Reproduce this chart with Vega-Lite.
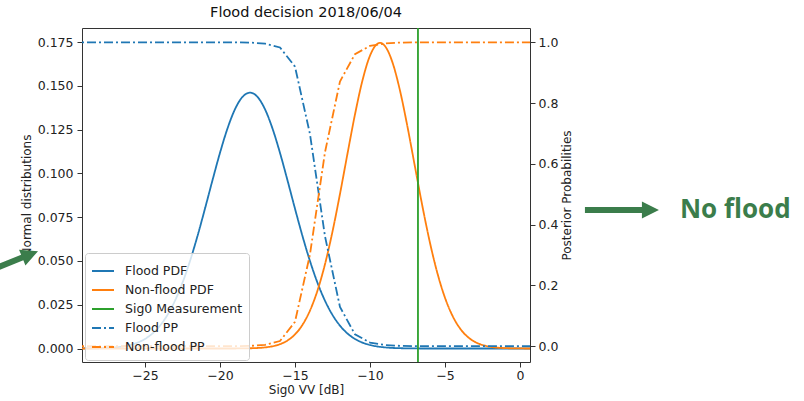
{
  "$schema": "https://vega.github.io/schema/vega-lite/v6.json",
  "width": 448,
  "height": 334,
  "autosize": {"type": "none"},
  "padding": {"left": 82, "top": 28, "right": 274, "bottom": 39},
  "background": "white",
  "title": {"text": "Flood decision 2018/06/04", "fontSize": 14.5, "fontWeight": "normal", "font": "DejaVu Sans", "color": "#111", "offset": 9, "baseline": "alphabetic", "anchor": "middle", "frame": "group", "dy": 13},
  "config": {
    "font": "DejaVu Sans",
    "view": {"stroke": "#333", "strokeWidth": 1},
    "axis": {"grid": false, "domain": false, "tickColor": "#333", "tickSize": 5, "labelFontSize": 12.5, "labelColor": "#222", "titleFontSize": 12, "titleFontWeight": "normal", "titleColor": "#222", "labelFont": "DejaVu Sans", "titleFont": "DejaVu Sans"},
    "legend": {"orient": "none", "legendX": 3, "legendY": 225, "symbolType": "stroke", "symbolSize": 484, "symbolStrokeWidth": 1.8, "labelFontSize": 12.5, "labelColor": "#222", "labelFont": "DejaVu Sans", "labelOffset": 10, "padding": 6, "rowPadding": 0, "fillColor": "rgba(255,255,255,0.8)", "strokeColor": "#cccccc", "cornerRadius": 3}
  },
  "datasets": {
    "pdf": [
      {"x": -29.5, "v": 0, "series": "Flood PDF"},
      {"x": -29, "v": 0.00004, "series": "Flood PDF"},
      {"x": -28.5, "v": 0.00009, "series": "Flood PDF"},
      {"x": -28, "v": 0.00018, "series": "Flood PDF"},
      {"x": -27.5, "v": 0.00034, "series": "Flood PDF"},
      {"x": -27, "v": 0.00064, "series": "Flood PDF"},
      {"x": -26.5, "v": 0.00115, "series": "Flood PDF"},
      {"x": -26, "v": 0.00199, "series": "Flood PDF"},
      {"x": -25.5, "v": 0.00336, "series": "Flood PDF"},
      {"x": -25, "v": 0.00546, "series": "Flood PDF"},
      {"x": -24.5, "v": 0.00858, "series": "Flood PDF"},
      {"x": -24, "v": 0.01305, "series": "Flood PDF"},
      {"x": -23.5, "v": 0.0192, "series": "Flood PDF"},
      {"x": -23, "v": 0.02731, "series": "Flood PDF"},
      {"x": -22.5, "v": 0.03756, "series": "Flood PDF"},
      {"x": -22, "v": 0.04994, "series": "Flood PDF"},
      {"x": -21.5, "v": 0.06423, "series": "Flood PDF"},
      {"x": -21, "v": 0.07988, "series": "Flood PDF"},
      {"x": -20.5, "v": 0.09606, "series": "Flood PDF"},
      {"x": -20, "v": 0.11171, "series": "Flood PDF"},
      {"x": -19.5, "v": 0.12563, "series": "Flood PDF"},
      {"x": -19, "v": 0.13662, "series": "Flood PDF"},
      {"x": -18.5, "v": 0.14367, "series": "Flood PDF"},
      {"x": -18, "v": 0.1461, "series": "Flood PDF"},
      {"x": -17.5, "v": 0.14367, "series": "Flood PDF"},
      {"x": -17, "v": 0.13662, "series": "Flood PDF"},
      {"x": -16.5, "v": 0.12563, "series": "Flood PDF"},
      {"x": -16, "v": 0.11171, "series": "Flood PDF"},
      {"x": -15.5, "v": 0.09606, "series": "Flood PDF"},
      {"x": -15, "v": 0.07988, "series": "Flood PDF"},
      {"x": -14.5, "v": 0.06423, "series": "Flood PDF"},
      {"x": -14, "v": 0.04994, "series": "Flood PDF"},
      {"x": -13.5, "v": 0.03756, "series": "Flood PDF"},
      {"x": -13, "v": 0.02731, "series": "Flood PDF"},
      {"x": -12.5, "v": 0.0192, "series": "Flood PDF"},
      {"x": -12, "v": 0.01305, "series": "Flood PDF"},
      {"x": -11.5, "v": 0.00858, "series": "Flood PDF"},
      {"x": -11, "v": 0.00546, "series": "Flood PDF"},
      {"x": -10.5, "v": 0.00336, "series": "Flood PDF"},
      {"x": -10, "v": 0.00199, "series": "Flood PDF"},
      {"x": -9.5, "v": 0.00115, "series": "Flood PDF"},
      {"x": -9, "v": 0.00064, "series": "Flood PDF"},
      {"x": -8.5, "v": 0.00034, "series": "Flood PDF"},
      {"x": -8, "v": 0.00018, "series": "Flood PDF"},
      {"x": -7.5, "v": 0.00009, "series": "Flood PDF"},
      {"x": -7, "v": 0.00004, "series": "Flood PDF"},
      {"x": -6, "v": 0, "series": "Flood PDF"},
      {"x": -3, "v": 0, "series": "Flood PDF"},
      {"x": 1, "v": 0, "series": "Flood PDF"},
      {"x": -29.5, "v": 0, "series": "Non-flood PDF"},
      {"x": -20, "v": 0, "series": "Non-flood PDF"},
      {"x": -19, "v": 0.00002, "series": "Non-flood PDF"},
      {"x": -18.5, "v": 0.00006, "series": "Non-flood PDF"},
      {"x": -18, "v": 0.00013, "series": "Non-flood PDF"},
      {"x": -17.5, "v": 0.00029, "series": "Non-flood PDF"},
      {"x": -17, "v": 0.00063, "series": "Non-flood PDF"},
      {"x": -16.5, "v": 0.00128, "series": "Non-flood PDF"},
      {"x": -16, "v": 0.00247, "series": "Non-flood PDF"},
      {"x": -15.5, "v": 0.00457, "series": "Non-flood PDF"},
      {"x": -15, "v": 0.00805, "series": "Non-flood PDF"},
      {"x": -14.5, "v": 0.01353, "series": "Non-flood PDF"},
      {"x": -14, "v": 0.02166, "series": "Non-flood PDF"},
      {"x": -13.5, "v": 0.03306, "series": "Non-flood PDF"},
      {"x": -13, "v": 0.0481, "series": "Non-flood PDF"},
      {"x": -12.5, "v": 0.06672, "series": "Non-flood PDF"},
      {"x": -12, "v": 0.08822, "series": "Non-flood PDF"},
      {"x": -11.5, "v": 0.11121, "series": "Non-flood PDF"},
      {"x": -11, "v": 0.13363, "series": "Non-flood PDF"},
      {"x": -10.5, "v": 0.15308, "series": "Non-flood PDF"},
      {"x": -10, "v": 0.16716, "series": "Non-flood PDF"},
      {"x": -9.5, "v": 0.17402, "series": "Non-flood PDF"},
      {"x": -9.33, "v": 0.1745, "series": "Non-flood PDF"},
      {"x": -9, "v": 0.17269, "series": "Non-flood PDF"},
      {"x": -8.5, "v": 0.16337, "series": "Non-flood PDF"},
      {"x": -8, "v": 0.14733, "series": "Non-flood PDF"},
      {"x": -7.5, "v": 0.12666, "series": "Non-flood PDF"},
      {"x": -7, "v": 0.10381, "series": "Non-flood PDF"},
      {"x": -6.5, "v": 0.0811, "series": "Non-flood PDF"},
      {"x": -6, "v": 0.0604, "series": "Non-flood PDF"},
      {"x": -5.5, "v": 0.04288, "series": "Non-flood PDF"},
      {"x": -5, "v": 0.02902, "series": "Non-flood PDF"},
      {"x": -4.5, "v": 0.01873, "series": "Non-flood PDF"},
      {"x": -4, "v": 0.01152, "series": "Non-flood PDF"},
      {"x": -3.5, "v": 0.00675, "series": "Non-flood PDF"},
      {"x": -3, "v": 0.00377, "series": "Non-flood PDF"},
      {"x": -2.5, "v": 0.00201, "series": "Non-flood PDF"},
      {"x": -2, "v": 0.00102, "series": "Non-flood PDF"},
      {"x": -1.5, "v": 0.00049, "series": "Non-flood PDF"},
      {"x": -1, "v": 0.00023, "series": "Non-flood PDF"},
      {"x": -0.5, "v": 0.0001, "series": "Non-flood PDF"},
      {"x": 0, "v": 0.00004, "series": "Non-flood PDF"},
      {"x": 1, "v": 0, "series": "Non-flood PDF"}
    ],
    "pp": [
      {"x": -30, "v": 1, "series": "Flood PP"},
      {"x": -19, "v": 0.9998, "series": "Flood PP"},
      {"x": -18, "v": 0.9991, "series": "Flood PP"},
      {"x": -17, "v": 0.9954, "series": "Flood PP"},
      {"x": -16, "v": 0.983, "series": "Flood PP"},
      {"x": -15, "v": 0.92, "series": "Flood PP"},
      {"x": -14, "v": 0.698, "series": "Flood PP"},
      {"x": -13, "v": 0.362, "series": "Flood PP"},
      {"x": -12, "v": 0.129, "series": "Flood PP"},
      {"x": -11, "v": 0.039, "series": "Flood PP"},
      {"x": -10, "v": 0.012, "series": "Flood PP"},
      {"x": -9, "v": 0.004, "series": "Flood PP"},
      {"x": -8, "v": 0.001, "series": "Flood PP"},
      {"x": -7, "v": 0.0004, "series": "Flood PP"},
      {"x": -6, "v": 0, "series": "Flood PP"},
      {"x": 1, "v": 0, "series": "Flood PP"},
      {"x": -30, "v": 0, "series": "Non-flood PP"},
      {"x": -19, "v": 0.0002, "series": "Non-flood PP"},
      {"x": -18, "v": 0.0009, "series": "Non-flood PP"},
      {"x": -17, "v": 0.0046, "series": "Non-flood PP"},
      {"x": -16, "v": 0.017, "series": "Non-flood PP"},
      {"x": -15, "v": 0.08, "series": "Non-flood PP"},
      {"x": -14, "v": 0.302, "series": "Non-flood PP"},
      {"x": -13, "v": 0.638, "series": "Non-flood PP"},
      {"x": -12, "v": 0.871, "series": "Non-flood PP"},
      {"x": -11, "v": 0.961, "series": "Non-flood PP"},
      {"x": -10, "v": 0.988, "series": "Non-flood PP"},
      {"x": -9, "v": 0.996, "series": "Non-flood PP"},
      {"x": -8, "v": 0.999, "series": "Non-flood PP"},
      {"x": -7, "v": 0.9996, "series": "Non-flood PP"},
      {"x": -6, "v": 1, "series": "Non-flood PP"},
      {"x": 1, "v": 1, "series": "Non-flood PP"}
    ]
  },
  "layer": [
    {
      "data": {"name": "pdf"},
      "mark": {"type": "line", "clip": true, "strokeWidth": 1.8, "interpolate": "monotone"},
      "encoding": {
        "x": {"field": "x", "type": "quantitative", "scale": {"domain": [-29.2, 0.67], "nice": false, "zero": false}, "axis": {"values": [-25, -20, -15, -10, -5, 0], "title": "Sig0 VV [dB]", "labelPadding": 2, "titlePadding": 3}},
        "y": {"field": "v", "type": "quantitative", "scale": {"domain": [-0.0077, 0.183], "nice": false, "zero": false}, "axis": {"orient": "left", "values": [0, 0.025, 0.05, 0.075, 0.1, 0.125, 0.15, 0.175], "format": ".3f", "title": "Normal distributions", "titlePadding": 4, "labelPadding": 4}},
        "color": {"field": "series", "type": "nominal", "scale": {"domain": ["Flood PDF", "Non-flood PDF", "Sig0 Measurement", "Flood PP", "Non-flood PP"], "range": ["#1f77b4", "#ff7f0e", "#2ca02c", "#1f77b4", "#ff7f0e"]}, "legend": {"title": null}},
        "strokeDash": {"field": "series", "type": "nominal", "scale": {"domain": ["Flood PDF", "Non-flood PDF", "Sig0 Measurement", "Flood PP", "Non-flood PP"], "range": [[1, 0], [1, 0], [1, 0], [9, 3, 2, 3], [9, 3, 2, 3]]}, "legend": {"title": null}}
      }
    },
    {
      "data": {"values": [{"x": -6.8, "series": "Sig0 Measurement"}]},
      "mark": {"type": "rule", "strokeWidth": 1.8},
      "encoding": {
        "x": {"field": "x", "type": "quantitative", "scale": {"domain": [-29.2, 0.67], "nice": false, "zero": false}},
        "color": {"field": "series", "type": "nominal", "scale": {"domain": ["Flood PDF", "Non-flood PDF", "Sig0 Measurement", "Flood PP", "Non-flood PP"], "range": ["#1f77b4", "#ff7f0e", "#2ca02c", "#1f77b4", "#ff7f0e"]}, "legend": {"title": null}},
        "strokeDash": {"field": "series", "type": "nominal", "scale": {"domain": ["Flood PDF", "Non-flood PDF", "Sig0 Measurement", "Flood PP", "Non-flood PP"], "range": [[1, 0], [1, 0], [1, 0], [9, 3, 2, 3], [9, 3, 2, 3]]}, "legend": {"title": null}}
      }
    },
    {
      "data": {"name": "pp"},
      "mark": {"type": "line", "clip": true, "strokeWidth": 1.8},
      "encoding": {
        "x": {"field": "x", "type": "quantitative", "scale": {"domain": [-29.2, 0.67], "nice": false, "zero": false}},
        "y": {"field": "v", "type": "quantitative", "scale": {"domain": [-0.052, 1.047], "nice": false, "zero": false}, "axis": {"orient": "right", "values": [0, 0.2, 0.4, 0.6, 0.8, 1.0], "format": ".1f", "title": "Posterior Probabilities", "titleAngle": 270, "titleBaseline": "top", "titlePadding": 4, "labelPadding": 3}},
        "color": {"field": "series", "type": "nominal", "scale": {"domain": ["Flood PDF", "Non-flood PDF", "Sig0 Measurement", "Flood PP", "Non-flood PP"], "range": ["#1f77b4", "#ff7f0e", "#2ca02c", "#1f77b4", "#ff7f0e"]}, "legend": {"title": null}},
        "strokeDash": {"field": "series", "type": "nominal", "scale": {"domain": ["Flood PDF", "Non-flood PDF", "Sig0 Measurement", "Flood PP", "Non-flood PP"], "range": [[1, 0], [1, 0], [1, 0], [9, 3, 2, 3], [9, 3, 2, 3]]}, "legend": {"title": null}}
      }
    },
    {
      "data": {"values": [{"ax": 6.8, "ay": 0.448}]},
      "mark": {"type": "point", "shape": "M-1,-0.08L0.54,-0.08L0.54,-0.23L1,0L0.54,0.23L0.54,0.08L-1,0.08Z", "size": 5476, "filled": true, "color": "#3b7d4b", "opacity": 1, "strokeWidth": 0},
      "encoding": {
        "x": {"field": "ax", "type": "quantitative", "scale": {"domain": [-29.2, 0.67], "nice": false, "zero": false}},
        "y": {"field": "ay", "type": "quantitative", "scale": {"domain": [-0.052, 1.047], "nice": false, "zero": false}, "axis": null}
      }
    },
    {
      "data": {"values": [{"ax": -34.42, "ay": 0.267}]},
      "mark": {"type": "point", "shape": "M-1,-0.08L0.54,-0.08L0.54,-0.23L1,0L0.54,0.23L0.54,0.08L-1,0.08Z", "size": 5476, "angle": -22, "filled": true, "color": "#3b7d4b", "opacity": 1, "strokeWidth": 0},
      "encoding": {
        "x": {"field": "ax", "type": "quantitative", "scale": {"domain": [-29.2, 0.67], "nice": false, "zero": false}},
        "y": {"field": "ay", "type": "quantitative", "scale": {"domain": [-0.052, 1.047], "nice": false, "zero": false}, "axis": null}
      }
    },
    {
      "data": {"values": [{"ax": 10.67, "ay": 0.422, "label": "No flood"}]},
      "mark": {"type": "text", "align": "left", "baseline": "alphabetic", "fontSize": 26, "fontWeight": "bold", "font": "Open Sans", "color": "#3b7d4b"},
      "encoding": {
        "x": {"field": "ax", "type": "quantitative", "scale": {"domain": [-29.2, 0.67], "nice": false, "zero": false}},
        "y": {"field": "ay", "type": "quantitative", "scale": {"domain": [-0.052, 1.047], "nice": false, "zero": false}, "axis": null},
        "text": {"field": "label"}
      }
    }
  ],
  "resolve": {"scale": {"y": "independent"}, "axis": {"y": "independent"}}
}
